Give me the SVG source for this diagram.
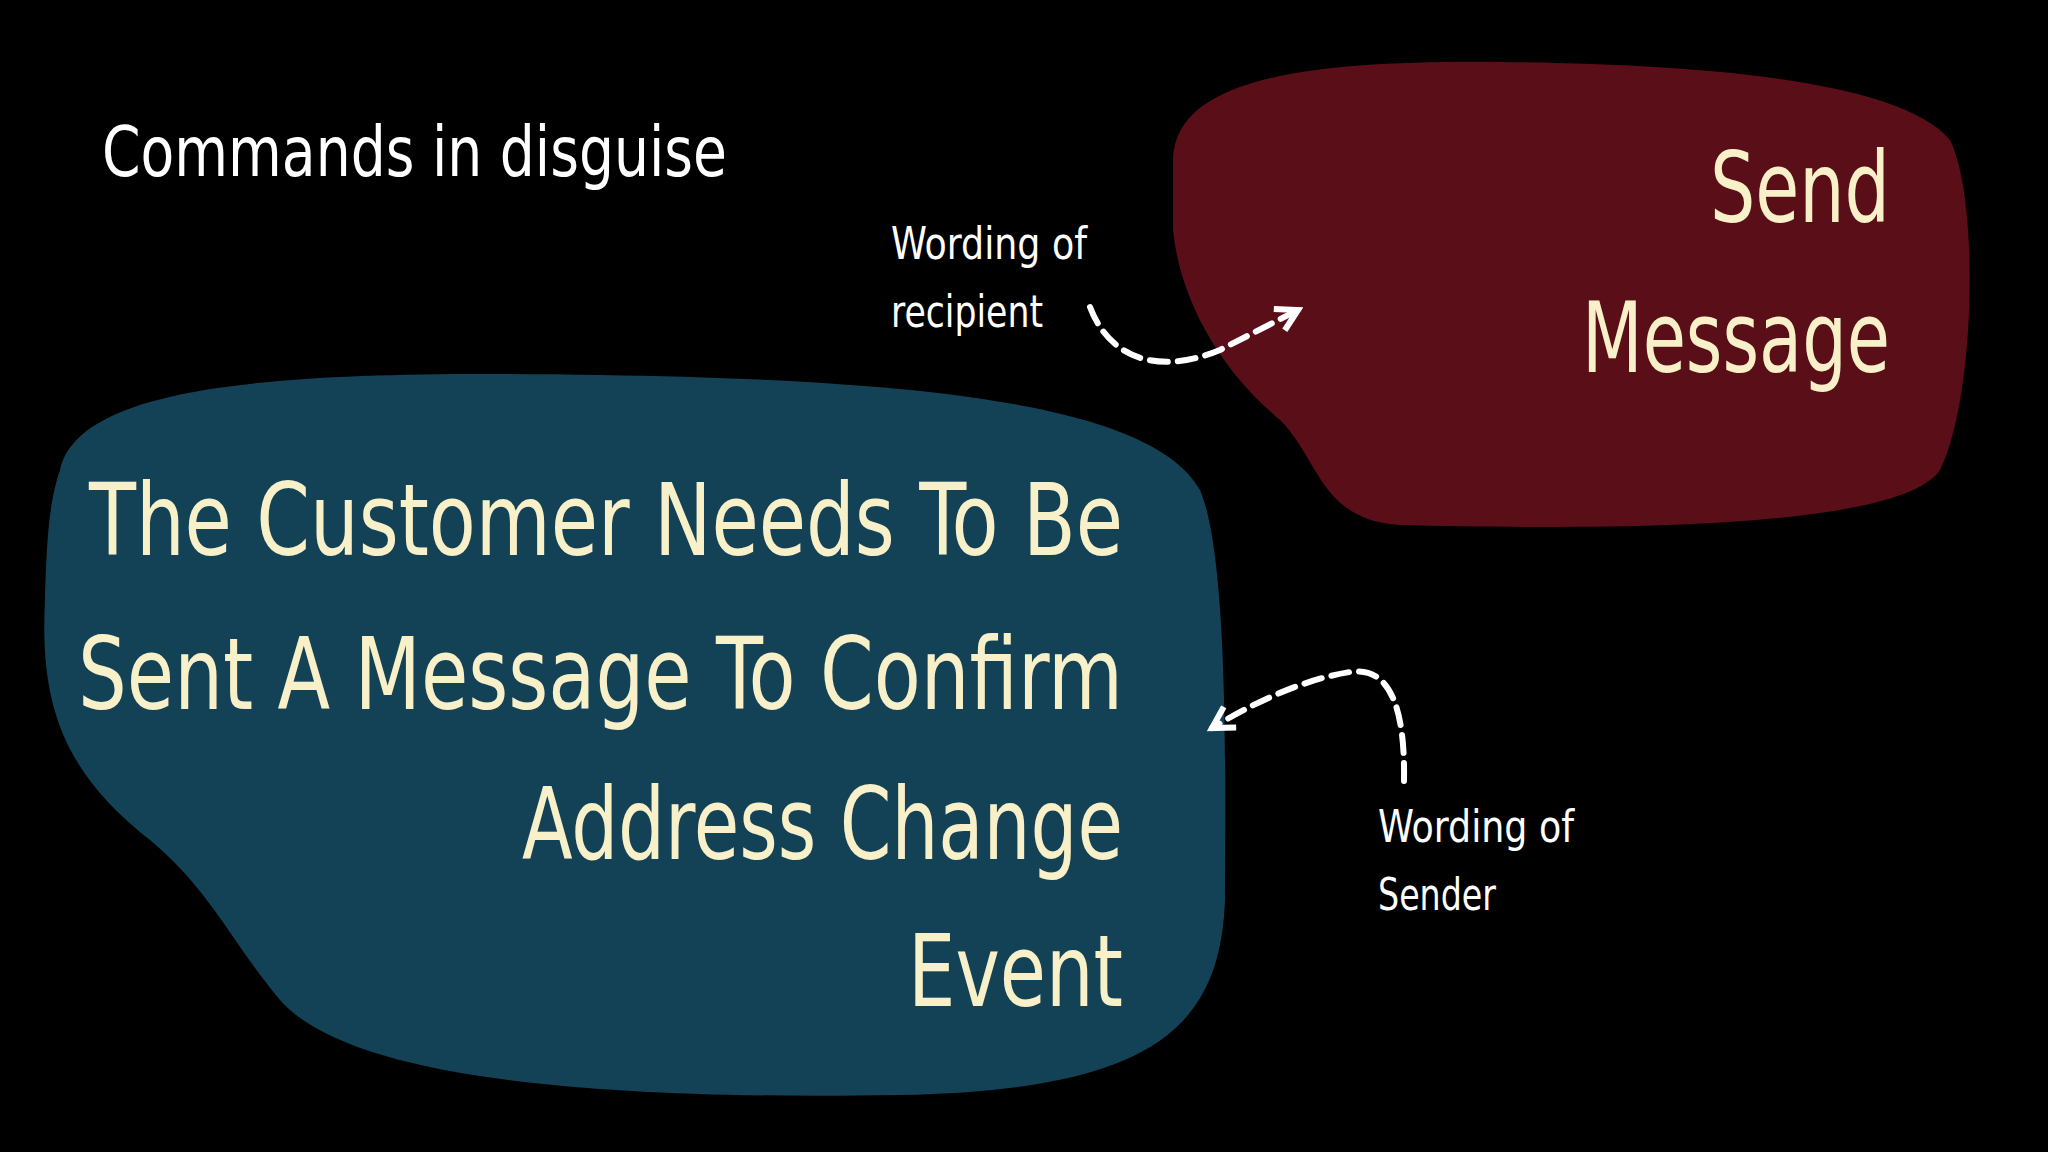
<svg xmlns="http://www.w3.org/2000/svg" width="2048" height="1152" viewBox="0 0 2048 1152">
<defs>
<style>
.t{font-family:"Liberation Sans Narrow","DejaVu Sans Condensed","Liberation Sans",sans-serif;fill:#f8f0c8}
.w{font-family:"Liberation Sans Narrow","DejaVu Sans Condensed","Liberation Sans",sans-serif;fill:#ffffff}
.c{fill:none;stroke:#fff;stroke-width:6;stroke-dasharray:18 10;stroke-linecap:round}
</style>
<marker id="ah" viewBox="0 0 10 10" refX="8" refY="5" markerWidth="5" markerHeight="5" orient="auto"><path d="M1 1 L8 5 L1 9" fill="none" stroke="#fff" stroke-width="2"/></marker>
</defs>
<rect width="2048" height="1152" fill="#000"/>
<text class="w" x="102" y="176" font-size="70" textLength="625" lengthAdjust="spacingAndGlyphs">Commands in disguise</text>
<g id="send">
<path d="M1173 160 C1175 80 1300 60 1500 62 C1700 64 1900 80 1950 140 C1980 200 1975 400 1940 470 C1900 530 1600 530 1400 525 C1320 520 1320 460 1280 420 C1220 370 1180 300 1173 230 Z" fill="#5a0e18"/>
<text class="t" x="1890" y="222" font-size="98" text-anchor="end" textLength="180" lengthAdjust="spacingAndGlyphs">Send</text>
<text class="t" x="1890" y="372" font-size="98" text-anchor="end" textLength="308" lengthAdjust="spacingAndGlyphs">Message</text>
</g>
<g id="event">
<path d="M60 470 C80 380 300 370 600 375 C900 380 1150 400 1200 490 C1230 560 1225 800 1225 900 C1220 1030 1150 1090 900 1095 C600 1100 350 1080 280 1000 C230 940 210 890 150 840 C60 770 40 700 45 600 C47 530 50 500 60 470 Z" fill="#134257"/>
<text class="t" x="1123" y="555" font-size="100" text-anchor="end" textLength="1034" lengthAdjust="spacingAndGlyphs">The Customer Needs To Be</text>
<text class="t" x="1123" y="709" font-size="100" text-anchor="end" textLength="1045" lengthAdjust="spacingAndGlyphs">Sent A Message To Confirm</text>
<text class="t" x="1123" y="859" font-size="100" text-anchor="end" textLength="601" lengthAdjust="spacingAndGlyphs">Address Change</text>
<text class="t" x="1123" y="1006" font-size="100" text-anchor="end" textLength="215" lengthAdjust="spacingAndGlyphs">Event</text>
</g>
<g id="labels">
<text class="w" x="891" y="259" font-size="44" textLength="196" lengthAdjust="spacingAndGlyphs">Wording of</text>
<text class="w" x="891" y="327" font-size="44" textLength="152" lengthAdjust="spacingAndGlyphs">recipient</text>
<text class="w" x="1378" y="842" font-size="44" textLength="196" lengthAdjust="spacingAndGlyphs">Wording of</text>
<text class="w" x="1378" y="910" font-size="44" textLength="118" lengthAdjust="spacingAndGlyphs">Sender</text>
</g>
<g id="connectors">
<path class="c" d="M1090 307 C1110 360 1160 375 1220 350 L1298 310" marker-end="url(#ah)"/>
<path class="c" d="M1404 781 C1405 720 1395 665 1350 672 C1300 680 1250 705 1212 728" marker-end="url(#ah)"/>
</g>
</svg>
